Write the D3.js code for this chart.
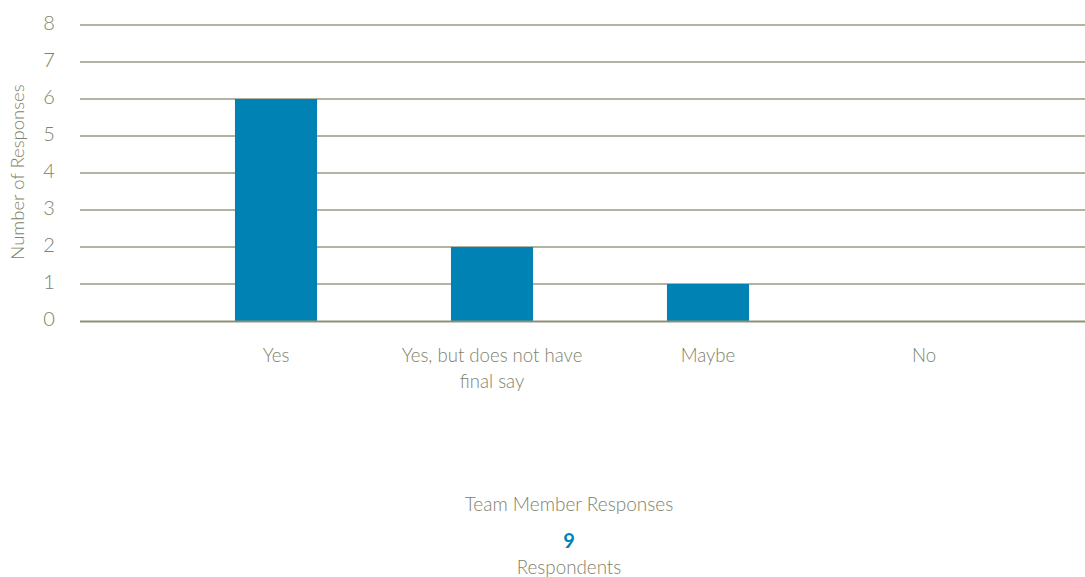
<!DOCTYPE html>
<html lang="en">
<head>
    <meta charset="UTF-8">
    <title>Team Member Responses</title>
    <script src="https://d3js.org/d3.v7.min.js"></script>
    <style>
        body { margin: 0; background: #fff; }
        text { font-family: Lato, "Open Sans", sans-serif; font-weight: 300; fill: #80826a; }
        .grid line { stroke: #9a9a84; stroke-width: 1.4; }
    </style>
</head>
<body>
<svg id="svg" width="1085" height="577"></svg>
<script>
// data
let categories = ['Yes', 'Yes, but does not have final say', 'Maybe', 'No'];
let labelLines = [['Yes'], ['Yes, but does not have', 'final say'], ['Maybe'], ['No']];
let values = [6, 2, 1, 0];
let yTicks = [0, 1, 2, 3, 4, 5, 6, 7, 8];
let respondents = 9;

let svg = d3.select('#svg');

let x = d3.scaleBand()
    .domain(categories)
    .range([168, 1032])
    .paddingInner(0.62)
    .paddingOuter(0.31);

let y = d3.scaleLinear()
    .domain([0, 8])
    .range([321, 25]);

// gridlines
let grid = svg.append('g').attr('class', 'grid');
grid.selectAll('line')
    .data(yTicks.filter(d => d > 0))
    .enter()
    .append('line')
    .attr('x1', 80).attr('x2', 1085)
    .attr('y1', d => y(d)).attr('y2', d => y(d));

// y tick labels
svg.append('g').selectAll('text')
    .data(yTicks)
    .enter()
    .append('text')
    .attr('x', 49)
    .attr('y', d => y(d) - 2)
    .attr('dy', '0.36em')
    .attr('text-anchor', 'middle')
    .attr('font-size', 20)
    .text(d => d);

// bars
svg.append('g').selectAll('rect')
    .data(values)
    .enter()
    .append('rect')
    .attr('x', (d, i) => x(categories[i]))
    .attr('width', x.bandwidth())
    .attr('y', d => y(d))
    .attr('height', d => y(0) - y(d))
    .attr('fill', '#0082b4');

// baseline
svg.append('line')
    .attr('x1', 80).attr('x2', 1085)
    .attr('y1', y(0) + 0.5).attr('y2', y(0) + 0.5)
    .attr('stroke', '#8f8f78')
    .attr('stroke-width', 2.2);

// x labels
let xl = svg.append('g').selectAll('text')
    .data(categories)
    .enter()
    .append('text')
    .attr('x', d => x(d) + x.bandwidth() / 2)
    .attr('y', 362)
    .attr('text-anchor', 'middle')
    .attr('font-size', 18.6);
xl.selectAll('tspan')
    .data((d, i) => labelLines[i])
    .enter()
    .append('tspan')
    .attr('x', function () { return d3.select(this.parentNode).attr('x'); })
    .attr('dy', (d, i) => i === 0 ? 0 : 26)
    .text(d => d);

// y axis title
svg.append('text')
    .attr('transform', 'translate(24,172) rotate(-90)')
    .attr('text-anchor', 'middle')
    .attr('font-size', 18.5)
    .text('Number of Responses');

// footer
svg.append('text')
    .attr('x', 569).attr('y', 511)
    .attr('text-anchor', 'middle')
    .attr('font-size', 19)
    .text('Team Member Responses');

svg.append('text')
    .attr('x', 569).attr('y', 548)
    .attr('text-anchor', 'middle')
    .attr('font-size', 20)
    .style('font-weight', 'bold')
    .style('fill', '#0082b4')
    .text(respondents);

svg.append('text')
    .attr('x', 569).attr('y', 574)
    .attr('text-anchor', 'middle')
    .attr('font-size', 18.8)
    .text('Respondents');
</script>
</body>
</html>
